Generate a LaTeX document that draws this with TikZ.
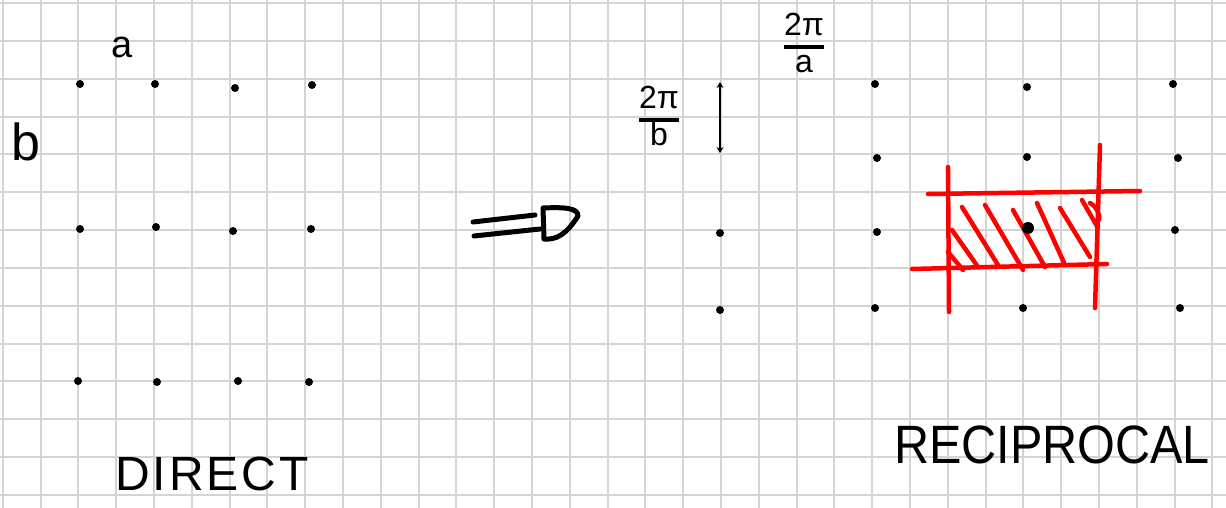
\documentclass[tikz,border=0pt]{standalone}
\usepackage{fontspec}
\setmainfont{Liberation Sans}
\usetikzlibrary{arrows.meta}
\begin{document}
\begin{tikzpicture}[x=1pt,y=-1pt,
  gridline/.style={draw=black!17,line width=2pt},
  dot/.style={circle,fill=black,inner sep=0pt,minimum size=8pt},
  bigdot/.style={circle,fill=black,inner sep=0pt,minimum size=12pt},
  ink/.style={draw=black,line width=5pt,line cap=round,line join=round},
  redink/.style={draw=red,line width=4.5pt,line cap=round,line join=round},
  lbl/.style={inner sep=0pt,text=black},
  frac/.style={inner sep=0pt,font=\fontsize{32}{34}\selectfont}]
\fill[white] (0,0) rectangle (1226,508);
\useasboundingbox (0,0) rectangle (1226,508);
% grid
\foreach \k in {0,...,32} \draw[gridline] ({2.7+37.8*\k},0) -- ({2.7+37.8*\k},508);
\foreach \k in {0,...,13} \draw[gridline] (0,{3.3+37.8*\k}) -- (1226,{3.3+37.8*\k});
% direct lattice
\node[dot] (d11) at (80,84) {};
\node[dot] (d12) at (155,84) {};
\node[dot] (d13) at (235,88) {};
\node[dot] (d14) at (312,85) {};
\node[dot] (d21) at (80,229) {};
\node[dot] (d22) at (156,227) {};
\node[dot] (d23) at (233,231) {};
\node[dot] (d24) at (311,229) {};
\node[dot] (d31) at (78,381) {};
\node[dot] (d32) at (157,382) {};
\node[dot] (d33) at (238,381) {};
\node[dot] (d34) at (309,382) {};
\node[lbl,font=\fontsize{38}{40}\selectfont] (la) at (122,47) {a};
\node[lbl,font=\fontsize{52}{56}\selectfont] (lb) at (26,142) {b};
\node[lbl,font=\fontsize{48}{52}\selectfont\addfontfeatures{LetterSpace=6}] (ldirect) at (212,474) {DIRECT};
% implies arrow
\coordinate (i1) at (473,222);
\coordinate (i2) at (535,215);
\coordinate (i3) at (474,236);
\coordinate (i4) at (540,229);
\draw[ink] (i1) -- (i2);
\draw[ink] (i3) -- (i4);
\draw[ink] (543,208) -- (544,239) .. controls (556,240) and (566,235) .. (578,216) .. controls (578,208) and (565,207) .. (543,208);
% reciprocal lattice
\coordinate (r11) at (720,82);
\coordinate (r21) at (720,153);
\draw[black,line width=2pt,{Stealth[length=6pt,width=7pt]}-{Stealth[length=6pt,width=7pt]}] (r11) -- (r21);
\node[dot] (r12) at (875,84) {};
\node[dot] (r13) at (1027,87) {};
\node[dot] (r14) at (1173,84) {};
\node[dot] (r22) at (877,158) {};
\node[dot] (r23) at (1027,157) {};
\node[dot] (r24) at (1178,158) {};
\node[dot] (r31) at (720,233) {};
\node[dot] (r32) at (877,232) {};
\node[dot] (r34) at (1175,230) {};
\node[dot] (r41) at (720,310) {};
\node[dot] (r42) at (875,308) {};
\node[dot] (r43) at (1023,308) {};
\node[dot] (r44) at (1180,308) {};
% red Brillouin zone
\draw[redink] (928,194) -- (1140,191);
\draw[redink] (912,269) -- (1107,264);
\draw[redink] (948,167) -- (949,312);
\draw[redink] (1100,145) -- (1095,308);
\draw[redink] (948,252) -- (963,270);
\draw[redink] (952,230) -- (978,267);
\draw[redink] (962,207) -- (998,265);
\draw[redink] (985,205) -- (1023,270);
\draw[redink] (1013,210) -- (1045,267);
\draw[redink] (1037,203) -- (1065,265);
\draw[redink] (1060,208) -- (1090,257);
\draw[redink] (1082,200) -- (1098,228);
\draw[redink] (1090,203) .. controls (1097,207) and (1100,214) .. (1099,220);
\node[bigdot] (r33) at (1028,228) {};
\node[lbl,font=\fontsize{54}{58}\selectfont] (lrecip) at (1052,445) {\scalebox{0.9}[1]{RECIPROCAL}};
% fractions
{\setlength\arrayrulewidth{3.5pt}\renewcommand\arraystretch{1.0}
\node[frac] (fa) at (804,47) {\begin{tabular}{@{}c@{}}2π\\\hline a\end{tabular}};
\node[frac] (fb) at (659,120) {\begin{tabular}{@{}c@{}}2π\\\hline b\end{tabular}};
}
\end{tikzpicture}
\end{document}
